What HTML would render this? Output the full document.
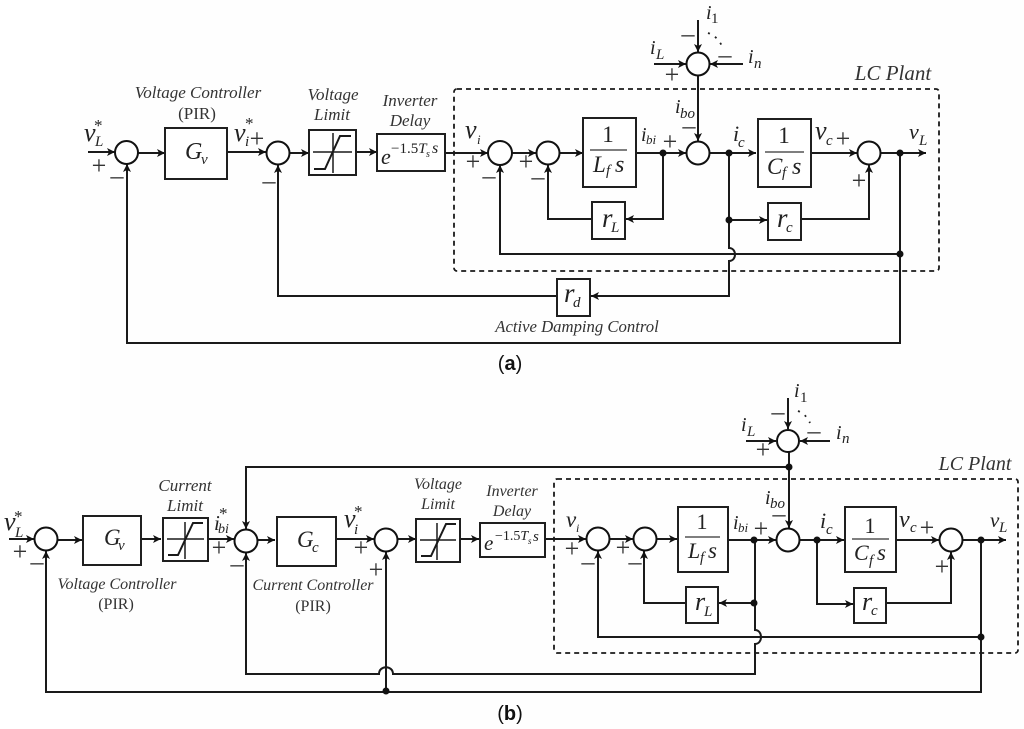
<!DOCTYPE html>
<html><head><meta charset="utf-8"><style>
html,body{margin:0;padding:0;background:#fff;width:1024px;height:729px;overflow:hidden}
svg{display:block;filter:blur(0.35px)}
text{font-family:"Liberation Serif",serif;fill:#222}
.i{font-style:italic}
.c{font-size:17px;font-style:italic;fill:#333;text-anchor:middle}
.p{font-size:17px;fill:#333;text-anchor:middle}
.cb{font-size:16px;font-style:italic;fill:#333;text-anchor:middle}
.pb{font-size:16px;fill:#333;text-anchor:middle}
.v{font-size:26px;font-style:italic}
.s{font-size:15px;font-style:italic}
.ii{font-size:21px;font-style:italic}
.sg{font-size:26px;fill:#333;text-anchor:middle}
.st{font-size:17px;fill:#222}
.l{fill:none;stroke:#1a1a1a;stroke-width:2}
.b{fill:#fff;stroke:#1f1f1f;stroke-width:2}
.o{fill:#fff;stroke:#111;stroke-width:2}
.d{fill:#111}
.a{fill:#111}
.dash{fill:none;stroke:#1a1a1a;stroke-width:1.8;stroke-dasharray:5 4}
.thin{fill:none;stroke:#333;stroke-width:1.3}
</style></head><body>
<svg width="1024" height="729" viewBox="0 0 1024 729" xmlns="http://www.w3.org/2000/svg">
<defs>
<marker id="ar" markerUnits="userSpaceOnUse" markerWidth="10" markerHeight="10" refX="8" refY="4" orient="auto"><path d="M0,0 L8,4 L0,8 L2,4 Z" class="a"/></marker>
</defs>
<rect x="80" y="0" width="944" height="729" fill="#fefefe"/>

<!-- ========== (a) ========== -->
<rect class="dash" x="454" y="89" width="485" height="182" rx="3"/>
<g class="l">
<path d="M88 152H115" marker-end="url(#ar)"/>
<path d="M138 153H165" marker-end="url(#ar)"/>
<path d="M227 152H266" marker-end="url(#ar)"/>
<path d="M289 153H309" marker-end="url(#ar)"/>
<path d="M356 152H377" marker-end="url(#ar)"/>
<path d="M445 153H488" marker-end="url(#ar)"/>
<path d="M512 153H536" marker-end="url(#ar)"/>
<path d="M560 153H583" marker-end="url(#ar)"/>
<path d="M636 153H686" marker-end="url(#ar)"/>
<path d="M710 153H756" marker-end="url(#ar)"/>
<path d="M811 153H857" marker-end="url(#ar)"/>
<path d="M881 153H926" marker-end="url(#ar)"/>
<path d="M698 20V52" marker-end="url(#ar)"/>
<path d="M654 64H686" marker-end="url(#ar)"/>
<path d="M743 64H710" marker-end="url(#ar)"/>
<path d="M698 76V141" marker-end="url(#ar)"/>
<path d="M663 153V219H626" marker-end="url(#ar)"/>
<path d="M592 219H548V165" marker-end="url(#ar)"/>
<path d="M729 220H767" marker-end="url(#ar)"/>
<path d="M801 219H869V165" marker-end="url(#ar)"/>
<path d="M900 254H500V165" marker-end="url(#ar)"/>
<path d="M900 153V343H127V164" marker-end="url(#ar)"/>
<path d="M729 153V248C737 248 737 261 729 261V296H591" marker-end="url(#ar)"/>
<path d="M557 296H278V165" marker-end="url(#ar)"/>
</g>
<circle class="o" cx="126.500" cy="152.500" r="11.500"/>
<circle class="o" cx="278" cy="153" r="11.500"/>
<circle class="o" cx="500" cy="153" r="12"/>
<circle class="o" cx="548" cy="153" r="11.500"/>
<circle class="o" cx="698" cy="153" r="11.500"/>
<circle class="o" cx="869" cy="153" r="11.500"/>
<circle class="o" cx="698" cy="64" r="11.500"/>
<rect class="b" x="165" y="128" width="62" height="51"/>
<rect class="b" x="309" y="130" width="47" height="45"/>
<path class="l" style="stroke-width:1.5" d="M313 152H352M333 133V173"/>
<path class="l" d="M314 169H325L340 136H351"/>
<rect class="b" x="377" y="134" width="68" height="37"/>
<rect class="b" x="583" y="118" width="53" height="69"/>
<rect class="b" x="758" y="119" width="53" height="68"/>
<path class="thin" d="M590 150H627M765 152H804"/>
<rect class="b" x="592" y="202" width="33" height="37"/>
<rect class="b" x="768" y="203" width="33" height="37"/>
<rect class="b" x="557" y="279" width="33" height="37"/>
<g class="d">
<circle cx="663" cy="153" r="3.500"/><circle cx="729" cy="153" r="3.500"/>
<circle cx="900" cy="153" r="3.500"/><circle cx="729" cy="220" r="3.500"/>
<circle cx="900" cy="254" r="3.500"/>
</g>
<!-- (a) text -->
<text class="c" x="198" y="98">Voltage Controller</text>
<text class="p" x="197" y="119">(PIR)</text>
<text class="c" x="333" y="100">Voltage</text>
<text class="c" x="332" y="120">Limit</text>
<text class="c" x="410" y="106">Inverter</text>
<text class="c" x="410" y="126">Delay</text>
<text class="v" x="84" y="141">v</text><text class="s" x="95" y="146">L</text><text class="st" x="94" y="131">*</text>
<text class="sg" x="99" y="174">+</text><text class="sg" x="117" y="184">–</text>
<text class="v" x="234" y="141">v</text><text class="s" x="245" y="146">i</text><text class="st" x="245" y="129">*</text>
<text class="sg" x="257" y="147">+</text><text class="sg" x="269" y="189">–</text>
<text class="ii" x="185" y="159" style="font-size:24px">G</text><text class="s" x="201" y="164">v</text>
<text class="ii" x="381" y="164" style="font-size:22px">e</text><text x="391" y="153" style="font-size:15px">−1.5<tspan font-style="italic">T</tspan></text><text class="i" x="426" y="157" style="font-size:10px">s</text><text class="i" x="432" y="153" style="font-size:16px">s</text>
<text class="v" x="465" y="138">v</text><text class="s" x="477" y="144" style="font-size:13px">i</text>
<text class="sg" x="473" y="170">+</text><text class="sg" x="489" y="184">–</text>
<text class="sg" x="526" y="170">+</text><text class="sg" x="538" y="185">–</text>
<text x="608" y="142" style="font-size:23px;text-anchor:middle">1</text>
<text class="ii" x="593" y="172" style="font-size:23px">L</text><text class="s" x="606" y="175">f</text><text class="ii" x="615" y="172" style="font-size:24px">s</text>
<text class="ii" x="641" y="141" style="font-size:20px">i</text><text class="s" x="646" y="144" style="font-size:13px">bi</text>
<text class="sg" x="670" y="150">+</text>
<text class="ii" x="675" y="113" style="font-size:20px">i</text><text class="s" x="680" y="118">bo</text>
<text class="sg" x="689" y="134">–</text>
<text class="ii" x="733" y="141" style="font-size:22px">i</text><text class="s" x="738" y="147">c</text>
<text x="784" y="143" style="font-size:23px;text-anchor:middle">1</text>
<text class="ii" x="767" y="174" style="font-size:23px">C</text><text class="s" x="782" y="177">f</text><text class="ii" x="792" y="174" style="font-size:24px">s</text>
<text class="v" x="815" y="139">v</text><text class="s" x="826" y="145">c</text>
<text class="sg" x="843" y="147">+</text><text class="sg" x="859" y="189">+</text>
<text class="v" x="909" y="139" style="font-size:22px">v</text><text class="s" x="919" y="145">L</text>
<text class="i" x="893" y="80" style="font-size:21px;text-anchor:middle;fill:#333">LC Plant</text>
<text class="ii" x="706" y="19" style="font-size:20px">i</text><text class="s" x="711" y="23" style="font-style:normal">1</text>
<text class="sg" x="688" y="42">–</text><text class="sg" x="725" y="63">–</text>
<text class="sg" x="672" y="83">+</text>
<text class="ii" x="650" y="54" style="font-size:20px">i</text><text class="s" x="656" y="59">L</text>
<text class="ii" x="748" y="63" style="font-size:20px">i</text><text class="s" x="754" y="68">n</text>
<path d="M708 33q9 3 14 13" fill="none" stroke="#222" stroke-width="1.800" stroke-dasharray="2 6"/>
<text class="ii" x="602" y="227" style="font-size:27px">r</text><text class="s" x="611" y="232">L</text>
<text class="ii" x="777" y="227" style="font-size:27px">r</text><text class="s" x="786" y="232">c</text>
<text class="ii" x="564" y="302" style="font-size:27px">r</text><text class="s" x="573" y="307">d</text>
<text class="c" x="577" y="332" style="font-size:16.700px">Active Damping Control</text>
<text x="510" y="370" style="font-family:'Liberation Sans',sans-serif;font-size:20px;text-anchor:middle;fill:#111">(<tspan font-weight="bold">a</tspan>)</text>

<!-- ========== (b) ========== -->
<rect class="dash" x="554" y="479" width="464" height="174" rx="3"/>
<g class="l">
<path d="M9 539H34" marker-end="url(#ar)"/>
<path d="M57 540H82" marker-end="url(#ar)"/>
<path d="M141 539H161" marker-end="url(#ar)"/>
<path d="M208 539H234" marker-end="url(#ar)"/>
<path d="M258 540H275" marker-end="url(#ar)"/>
<path d="M336 539H374" marker-end="url(#ar)"/>
<path d="M397 539H416" marker-end="url(#ar)"/>
<path d="M460 539H479" marker-end="url(#ar)"/>
<path d="M545 539H586" marker-end="url(#ar)"/>
<path d="M610 539H633" marker-end="url(#ar)"/>
<path d="M657 539H677" marker-end="url(#ar)"/>
<path d="M728 540H776" marker-end="url(#ar)"/>
<path d="M800 540H844" marker-end="url(#ar)"/>
<path d="M896 540H939" marker-end="url(#ar)"/>
<path d="M963 540H1006" marker-end="url(#ar)"/>
<path d="M788 398V429" marker-end="url(#ar)"/>
<path d="M746 441H776" marker-end="url(#ar)"/>
<path d="M830 441H800" marker-end="url(#ar)"/>
<path d="M789 452V528" marker-end="url(#ar)"/>
<path d="M789 467H246V529" marker-end="url(#ar)"/>
<path d="M754 603H719" marker-end="url(#ar)"/>
<path d="M686 603H644V551" marker-end="url(#ar)"/>
<path d="M817 540V604H853" marker-end="url(#ar)"/>
<path d="M886 603H951V552" marker-end="url(#ar)"/>
<path d="M981 637H598V551" marker-end="url(#ar)"/>
<path d="M981 540V692H46V551" marker-end="url(#ar)"/>
<path d="M386 692V552" marker-end="url(#ar)"/>
<path d="M755 540V630C763 630 763 644 755 644V674H393C393 665 379 665 379 674H246V553" marker-end="url(#ar)"/>
</g>
<circle class="o" cx="46" cy="539" r="11.500"/>
<circle class="o" cx="246" cy="541" r="11.500"/>
<circle class="o" cx="386" cy="540" r="11.500"/>
<circle class="o" cx="598" cy="539" r="11.500"/>
<circle class="o" cx="645" cy="539" r="11.500"/>
<circle class="o" cx="788" cy="540" r="11.500"/>
<circle class="o" cx="951" cy="540" r="11.500"/>
<circle class="o" cx="788" cy="441" r="11"/>
<rect class="b" x="83" y="516" width="58" height="49"/>
<rect class="b" x="163" y="518" width="45" height="43"/>
<path class="l" style="stroke-width:1.5" d="M167 539H204M185 522V559"/>
<path class="l" d="M168 555H178L193 523H203"/>
<rect class="b" x="277" y="517" width="59" height="49"/>
<rect class="b" x="416" y="519" width="44" height="43"/>
<path class="l" style="stroke-width:1.5" d="M420 540H456M437 523V560"/>
<path class="l" d="M421 556H431L446 524H456"/>
<rect class="b" x="480" y="523" width="65" height="34"/>
<rect class="b" x="678" y="507" width="50" height="65"/>
<rect class="b" x="845" y="507" width="51" height="65"/>
<path class="thin" d="M685 537H720M852 539H889"/>
<rect class="b" x="686" y="587" width="32" height="36"/>
<rect class="b" x="854" y="588" width="32" height="35"/>
<g class="d">
<circle cx="789" cy="467" r="3.500"/><circle cx="754" cy="540" r="3.500"/>
<circle cx="817" cy="540" r="3.500"/><circle cx="981" cy="540" r="3.500"/>
<circle cx="754" cy="603" r="3.500"/><circle cx="981" cy="637" r="3.500"/>
<circle cx="386" cy="691" r="3.500"/>
</g>
<!-- (b) text -->
<text class="c" x="185" y="491">Current</text>
<text class="c" x="185" y="511">Limit</text>
<text class="cb" x="438" y="489">Voltage</text>
<text class="cb" x="438" y="509">Limit</text>
<text class="cb" x="512" y="496">Inverter</text>
<text class="cb" x="512" y="516">Delay</text>
<text class="cb" x="117" y="589">Voltage Controller</text>
<text class="pb" x="116" y="609">(PIR)</text>
<text class="cb" x="313" y="590">Current Controller</text>
<text class="pb" x="313" y="611">(PIR)</text>
<text class="v" x="4" y="530">v</text><text class="s" x="15" y="537">L</text><text class="st" x="14" y="522">*</text>
<text class="sg" x="20" y="560">+</text><text class="sg" x="37" y="570">–</text>
<text class="ii" x="104" y="545" style="font-size:23px">G</text><text class="s" x="118" y="550">v</text>
<text class="ii" x="214" y="530" style="font-size:21px">i</text><text class="s" x="218" y="533" style="font-size:14px">bi</text><text class="st" x="219" y="519">*</text>
<text class="sg" x="219" y="556">+</text><text class="sg" x="237" y="572">–</text>
<text class="ii" x="297" y="547" style="font-size:23px">G</text><text class="s" x="312" y="552">c</text>
<text class="v" x="344" y="527">v</text><text class="s" x="354" y="534">i</text><text class="st" x="354" y="517">*</text>
<text class="sg" x="361" y="556">+</text><text class="sg" x="376" y="578">+</text>
<text class="ii" x="484" y="550" style="font-size:21px">e</text><text x="495" y="540" style="font-size:14px">−1.5<tspan font-style="italic">T</tspan></text><text class="i" x="528" y="544" style="font-size:9px">s</text><text class="i" x="533" y="541" style="font-size:15px">s</text>
<text class="v" x="566" y="527" style="font-size:23px">v</text><text class="s" x="576" y="532" style="font-size:12px">i</text>
<text class="sg" x="572" y="557">+</text><text class="sg" x="588" y="570">–</text>
<text class="sg" x="623" y="556">+</text><text class="sg" x="635" y="570">–</text>
<text x="702" y="529" style="font-size:22px;text-anchor:middle">1</text>
<text class="ii" x="688" y="558" style="font-size:22px">L</text><text class="s" x="700" y="562">f</text><text class="ii" x="708" y="558" style="font-size:23px">s</text>
<text class="ii" x="733" y="529" style="font-size:20px">i</text><text class="s" x="738" y="532" style="font-size:13px">bi</text>
<text class="sg" x="761" y="537">+</text>
<text class="ii" x="765" y="504" style="font-size:20px">i</text><text class="s" x="770" y="508">bo</text>
<text class="sg" x="779" y="522">–</text>
<text class="ii" x="820" y="528" style="font-size:22px">i</text><text class="s" x="826" y="534">c</text>
<text x="870" y="533" style="font-size:22px;text-anchor:middle">1</text>
<text class="ii" x="854" y="560" style="font-size:22px">C</text><text class="s" x="869" y="565">f</text><text class="ii" x="877" y="560" style="font-size:23px">s</text>
<text class="v" x="899" y="527" style="font-size:24px">v</text><text class="s" x="910" y="532">c</text>
<text class="sg" x="927" y="536">+</text><text class="sg" x="942" y="575">+</text>
<text class="v" x="990" y="527" style="font-size:21px">v</text><text class="s" x="999" y="532">L</text>
<text class="i" x="975" y="470" style="font-size:20px;text-anchor:middle;fill:#333">LC Plant</text>
<text class="ii" x="794" y="397" style="font-size:20px">i</text><text class="s" x="800" y="402" style="font-style:normal">1</text>
<text class="sg" x="778" y="420">–</text><text class="sg" x="814" y="439">–</text>
<text class="sg" x="763" y="458">+</text>
<text class="ii" x="741" y="431" style="font-size:20px">i</text><text class="s" x="747" y="436">L</text>
<text class="ii" x="836" y="439" style="font-size:20px">i</text><text class="s" x="842" y="443">n</text>
<path d="M798 411q8 3 12 12" fill="none" stroke="#222" stroke-width="1.800" stroke-dasharray="2 6"/>
<text class="ii" x="695" y="610" style="font-size:26px">r</text><text class="s" x="704" y="616">L</text>
<text class="ii" x="862" y="610" style="font-size:26px">r</text><text class="s" x="871" y="615">c</text>
<text x="510" y="720" style="font-family:'Liberation Sans',sans-serif;font-size:20px;text-anchor:middle;fill:#111">(<tspan font-weight="bold">b</tspan>)</text>
</svg>
</body></html>
